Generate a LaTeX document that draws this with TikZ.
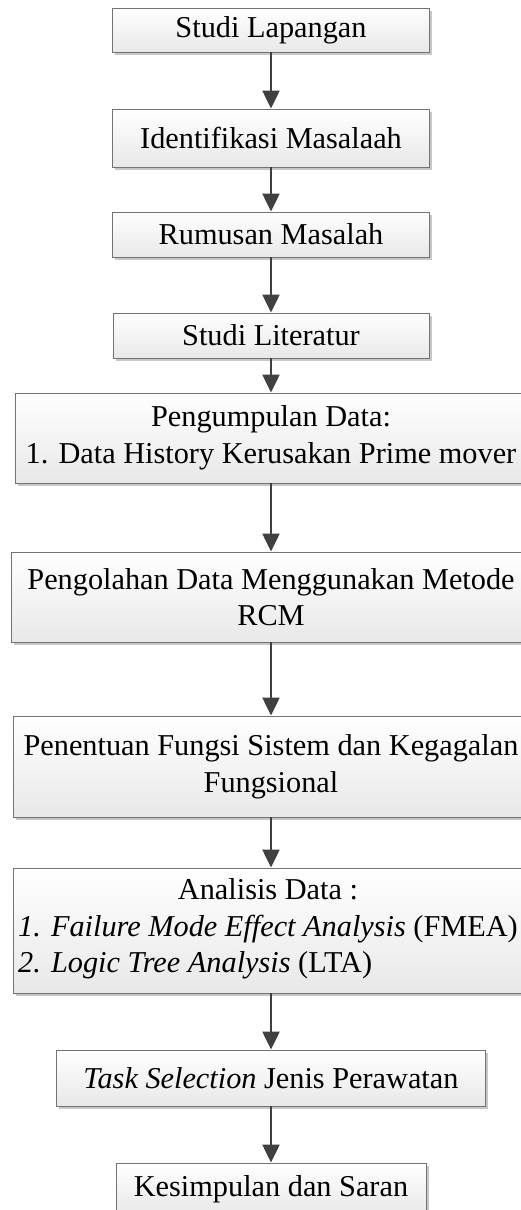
\documentclass[tikz,border=0pt]{standalone}
\usepackage{fontspec}
\setmainfont{Liberation Serif}
\usetikzlibrary{arrows.meta,shadows}

\tikzset{
  box/.style={draw=black!55, line width=0.9pt, top color=white, bottom color=black!9,
    inner sep=0pt, align=center,
    drop shadow={shadow xshift=2.5pt, shadow yshift=-2.5pt, fill=black!22, opacity=1}},
  flow/.style={draw=black!75, line width=2.3pt, -{Triangle[length=18pt,width=17pt]}},
  txt/.style={inner sep=0pt}
}

\begin{document}
\begin{tikzpicture}[x=1pt, y=-1pt, font=\fontsize{30.3}{36.5}\selectfont]
  \useasboundingbox (0,0) rectangle (520,1210);

  % process steps
  \node[box, minimum width=317, minimum height=44]  (s1) at (271,30)    {Studi Lapangan};
  \node[box, minimum width=317, minimum height=58]  (s2) at (271,138)   {Identifikasi Masalaah};
  \node[box, minimum width=317, minimum height=45]  (s3) at (271,234.5) {Rumusan Masalah};
  \node[box, minimum width=316, minimum height=45]  (s4) at (271,335.5) {Studi Literatur};
  \node[box, minimum width=512, minimum height=90]  (s5) at (271,438)
    {Pengumpulan Data:\\1. Data History Kerusakan Prime mover};
  \node[box, minimum width=520, minimum height=90]  (s6) at (271,597)
    {Pengolahan Data Menggunakan Metode\\RCM};
  \node[box, minimum width=516, minimum height=101] (s7) at (271,766.5)
    {Penentuan Fungsi Sistem dan Kegagalan\\Fungsional};
  \node[box, minimum width=516, minimum height=125] (s8) at (271,930.5) {};
  \node[txt, anchor=west] (s8t) at (18,929)
    {\begin{tabular}{@{}l@{}}
      \multicolumn{1}{@{}c@{}}{Analisis Data :}\\
      \textit{1. Failure Mode Effect Analysis} (FMEA)\\
      \textit{2. Logic Tree Analysis} (LTA)
     \end{tabular}};
  \node[box, minimum width=429, minimum height=56]  (s9) at (271,1078)
    {\textit{Task Selection} Jenis Perawatan};
  \node[box, minimum width=310, minimum height=52]  (s10) at (271,1189) {Kesimpulan dan Saran};

  % connectors
  \foreach \a/\b in {s1/s2, s2/s3, s3/s4, s4/s5, s5/s6, s6/s7, s7/s8, s8/s9, s9/s10}
    \draw[flow] (\a) -- (\b);
\end{tikzpicture}
\end{document}
